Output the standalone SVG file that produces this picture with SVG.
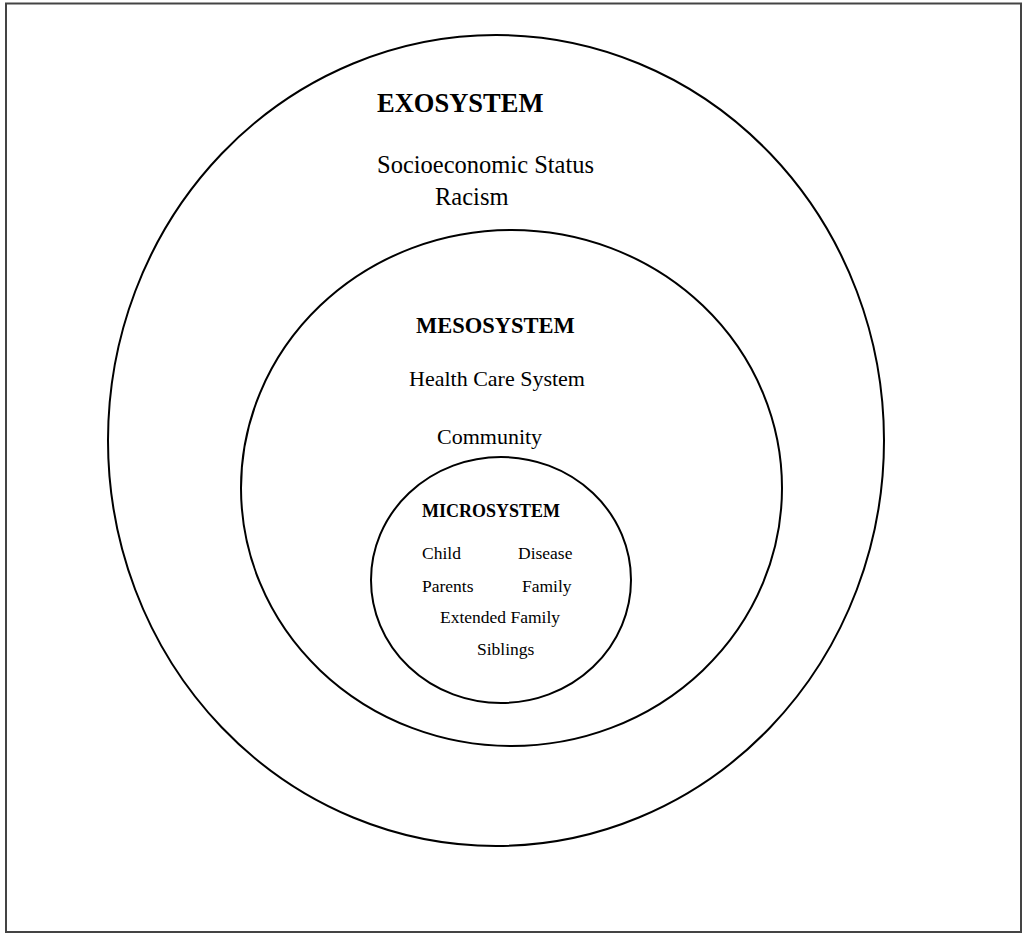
<svg xmlns="http://www.w3.org/2000/svg" width="1025" height="934" viewBox="0 0 1025 934">
<style>
.ring{fill:none;stroke:#000;stroke-width:2}
.t{font-family:"Liberation Serif","Times New Roman",serif;fill:#000}
.b{font-weight:bold}
</style>
<rect x="0" y="0" width="1025" height="934" fill="#fff"/>
<rect x="6" y="3.5" width="1015" height="928.5" fill="none" stroke="#444" stroke-width="2"/>
<g id="exosystem">
<ellipse class="ring" cx="496" cy="440.5" rx="388" ry="405.5"/>
<text class="t b" x="377" y="112" font-size="26.5">EXOSYSTEM</text>
<text class="t" x="377" y="173" font-size="24.5">Socioeconomic Status</text>
<text class="t" x="435" y="205" font-size="24.5">Racism</text>
</g>
<g id="mesosystem">
<ellipse class="ring" cx="511.5" cy="488" rx="270.5" ry="258"/>
<text class="t b" x="416" y="333" font-size="22.5">MESOSYSTEM</text>
<text class="t" x="409" y="386" font-size="22">Health Care System</text>
<text class="t" x="437" y="444" font-size="22">Community</text>
</g>
<g id="microsystem">
<ellipse class="ring" cx="501" cy="580" rx="130" ry="123"/>
<text class="t b" x="422" y="517" font-size="18">MICROSYSTEM</text>
<text class="t" x="422" y="559" font-size="17.5">Child</text>
<text class="t" x="518" y="559" font-size="17.5">Disease</text>
<text class="t" x="422" y="592" font-size="17.5">Parents</text>
<text class="t" x="522" y="592" font-size="17.5">Family</text>
<text class="t" x="440" y="623" font-size="17.5">Extended Family</text>
<text class="t" x="477" y="655" font-size="17.5">Siblings</text>
</g>
<g id="connectors"></g>
</svg>
